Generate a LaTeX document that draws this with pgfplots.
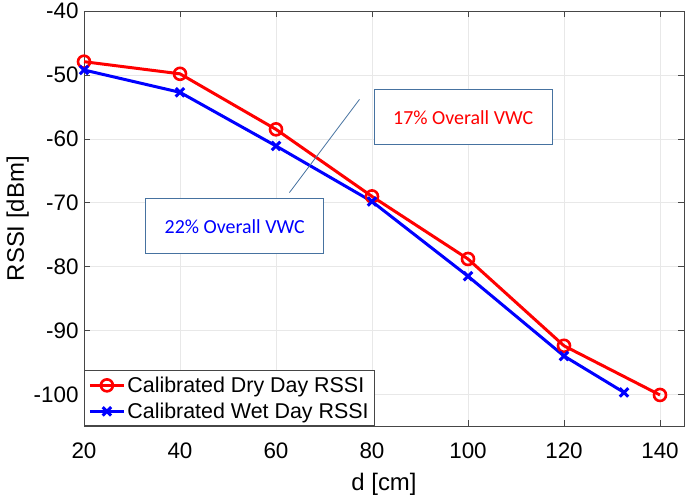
\documentclass[border=0pt]{standalone}
\usepackage{fontspec}
\setmainfont{Liberation Sans}
\newfontfamily\calibri{Carlito}
\usepackage{pgfplots}
\pgfplotsset{compat=1.18}
\definecolor{boxblue}{RGB}{70,114,160}
\definecolor{axgray}{RGB}{70,70,70}
\begin{document}
\begin{tikzpicture}
\begin{axis}[
  scale only axis,
  width=600bp, height=415bp,
  xmin=20, xmax=145, ymin=-105, ymax=-40,
  xtick={20,40,...,140}, ytick={-100,-90,...,-40},
  /pgf/number format/assume math mode=true,
  tick label style={font=\fontsize{22.5}{24}\selectfont},
  xticklabel style={yshift=-13bp},
  yticklabel style={xshift=-2bp},
  label style={font=\fontsize{24}{28}\selectfont},
  xlabel={d [cm]}, ylabel={RSSI [dBm]},
  xlabel style={yshift=-8bp},
  ylabel style={yshift=-2bp},
  grid=major,
  major grid style={gray!18, line width=0.6bp},
  axis line style={axgray, line width=0.8bp},
  tick style={axgray, line width=0.8bp},
  major tick length=6bp,
  tick align=inside,
  xtick pos=both, ytick pos=both,
  legend style={at={(0,0)}, anchor=south west, draw=axgray, line width=0.8bp,
    font=\fontsize{21.5}{23}\selectfont, inner xsep=4bp, inner ysep=4bp, row sep=5bp,
    legend cell align=left},
  legend image code/.code={\draw[mark repeat=2,mark phase=2] plot coordinates {(0bp,0bp) (17bp,0bp) (34bp,0bp)};},
]
\addplot[red, line width=3bp, mark=o, mark size=6bp, mark options={line width=2.6bp, solid}]
  coordinates {(20,-47.9) (40,-49.8) (60,-58.5) (80,-69.0) (100,-78.8) (120,-92.4) (140,-100.1)};
\addlegendentry{Calibrated Dry Day RSSI}
\addplot[blue, line width=3bp, mark=x, mark size=6bp, mark options={line width=3bp, solid}]
  coordinates {(20,-49.2) (40,-52.7) (60,-61.1) (80,-69.8) (100,-81.5) (120,-94.0) (132.5,-99.7)};
\addlegendentry{Calibrated Wet Day RSSI}
\draw[boxblue, line width=0.8bp] (axis cs:77.4,-53.8) -- (axis cs:62.8,-68.4);
\draw[boxblue, line width=1bp, fill=white] (axis cs:80.5,-52.2) rectangle (axis cs:117.5,-60.9);
\node[red, font=\calibri\fontsize{20}{22}\selectfont] at (axis cs:99,-56.6) {17\% Overall VWC};
\draw[boxblue, line width=1bp, fill=white] (axis cs:32.9,-69.4) rectangle (axis cs:69.9,-78.0);
\node[blue, font=\calibri\fontsize{20}{22}\selectfont] at (axis cs:51.4,-73.7) {22\% Overall VWC};
\end{axis}
\useasboundingbox ([xshift=-84bp,yshift=-69bp]current axis.south west) rectangle ([xshift=1bp,yshift=10bp]current axis.north east);
\end{tikzpicture}
\end{document}
